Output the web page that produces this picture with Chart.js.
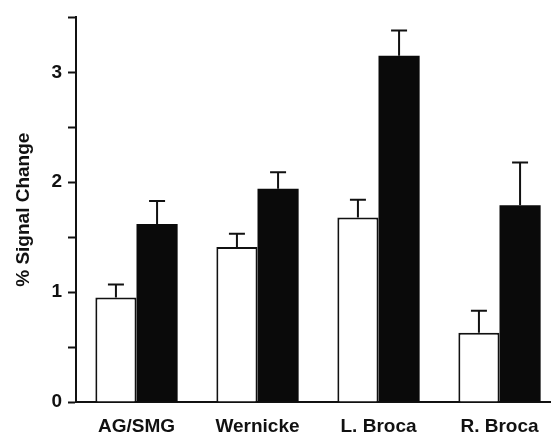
<!DOCTYPE html>
<html>
<head>
<meta charset="utf-8">
<script src="https://cdn.jsdelivr.net/npm/chart.js@4/dist/chart.umd.min.js"></script>
<style>
  html, body { margin: 0; padding: 0; background: #fff; overflow: hidden; }
  #wrap { width: 560px; height: 435px; position: relative; }
</style>
</head>
<body>
<div id="wrap"><canvas id="myChart"></canvas></div>
<script>
const regions = ['AG/SMG', 'Wernicke', 'L. Broca', 'R. Broca'];
const openVals = [0.95, 1.41, 1.68, 0.63];
const openErr = [0.12, 0.12, 0.16, 0.20];
const filledVals = [1.62, 1.94, 3.15, 1.79];
const filledErr = [0.21, 0.15, 0.23, 0.39];
const yTicks = [0, 1, 2, 3];

const font = 'Liberation Sans, Arial, Helvetica, sans-serif';

// upward-only error bars with a short cap
const errorBars = {
    id: 'errorBars',
    afterDatasetsDraw(chart) {
        const c = chart.ctx;
        const y = chart.scales.y;
        chart.data.datasets.forEach((ds, i) => {
            const meta = chart.getDatasetMeta(i);
            meta.data.forEach((bar, j) => {
                const top = y.getPixelForValue(ds.data[j]);
                const end = y.getPixelForValue(ds.data[j] + ds.errors[j]);
                c.save();
                c.strokeStyle = '#111';
                c.lineWidth = 2;
                c.beginPath();
                c.moveTo(bar.x, top);
                c.lineTo(bar.x, end);
                c.moveTo(bar.x - 8, end);
                c.lineTo(bar.x + 8, end);
                c.stroke();
                c.restore();
            });
        });
    }
};

new Chart(document.getElementById('myChart'), {
    type: 'bar',
    data: {
        labels: regions,
        datasets: [
            {
                data: openVals,
                errors: openErr,
                backgroundColor: '#fff',
                borderColor: '#111',
                borderWidth: 2
            },
            {
                data: filledVals,
                errors: filledErr,
                backgroundColor: '#0a0a0a',
                borderColor: '#0a0a0a',
                borderWidth: 0
            }
        ]
    },
    options: {
        responsive: true,
        maintainAspectRatio: false,
        animation: false,
        layout: { padding: { top: 13, right: 0, left: 0, bottom: 0 } },
        categoryPercentage: 0.68,
        barPercentage: 1,
        plugins: {
            legend: { display: false },
            tooltip: { enabled: false }
        },
        scales: {
            x: {
                grid: { display: false },
                border: { color: '#111', width: 2 },
                ticks: {
                    color: '#111',
                    font: { family: font, size: 19, weight: 'bold' },
                    padding: 5
                },
                afterFit(scale) { scale.height = 33; }
            },
            y: {
                min: 0,
                max: 3.5,
                grid: {
                    drawOnChartArea: false,
                    drawTicks: true,
                    tickLength: 8,
                    tickWidth: 2,
                    color: '#111'
                },
                border: { color: '#111', width: 2 },
                ticks: {
                    stepSize: 0.5,
                    color: '#111',
                    padding: 6,
                    font: { family: font, size: 19, weight: 'bold' },
                    callback: v => yTicks.includes(v) ? v : ''
                },
                title: {
                    display: true,
                    text: '% Signal Change',
                    color: '#111',
                    font: { family: font, size: 19, weight: 'bold' },
                    padding: { top: 12, bottom: 0 }
                },
                afterFit(scale) { scale.width = 76; }
            }
        }
    },
    plugins: [errorBars]
});
</script>
</body>
</html>
